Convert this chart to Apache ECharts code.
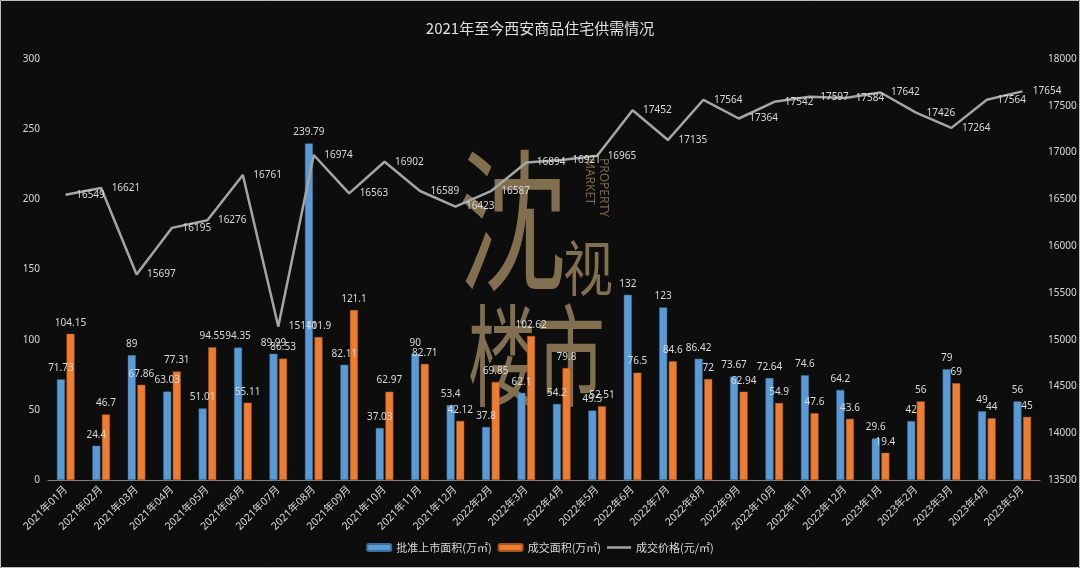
<!DOCTYPE html>
<html>
<head>
<meta charset="utf-8">
<script src="https://cdn.jsdelivr.net/npm/echarts@6/dist/echarts.min.js"></script>
<style>
html,body{margin:0;padding:0;background:#0d0d0d;}
#c{width:1080px;height:568px;}
</style>
</head>
<body>
<div id="c"></div>
<script>
const categories = ['2021年01月','2021年02月','2021年03月','2021年04月','2021年05月','2021年06月','2021年07月','2021年08月','2021年09月','2021年10月','2021年11月','2021年12月','2022年2月','2022年3月','2022年4月','2022年5月','2022年6月','2022年7月','2022年8月','2022年9月','2022年10月','2022年11月','2022年12月','2023年1月','2023年2月','2023年3月','2023年4月','2023年5月'];
const approvedArea = [71.73,24.4,89,63.03,51.01,94.35,89.99,239.79,82.11,37.03,90,53.4,37.8,62.1,54.2,49.5,132,123,86.42,73.67,72.64,74.6,64.2,29.6,42,79,49,56];
const soldArea = [104.15,46.7,67.86,77.31,94.55,55.11,86.53,101.9,121.1,62.97,82.71,42.12,69.85,102.62,79.8,52.51,76.5,84.6,72,62.94,54.9,47.6,43.6,19.4,56,69,44,45];
const price = [16549,16621,15697,16195,16276,16761,15141,16974,16563,16902,16589,16423,16587,16894,16921,16965,17452,17135,17564,17364,17542,17597,17584,17642,17426,17264,17564,17654];
const seriesNames = ['批准上市面积(万㎡)','成交面积(万㎡)','成交价格(元/㎡)'];

const txt = '#d9d9d9';
const font = 'Noto Sans, Noto Sans CJK SC, sans-serif';
const wm = 'rgba(175,150,105,0.72)';
const chart = echarts.init(document.getElementById('c'));
chart.setOption({
  backgroundColor: '#0d0d0d',
  animation: false,
  title: {
    text: '2021年至今西安商品住宅供需情况',
    left: 'center', top: 16,
    textStyle: {color: '#e0e0e0', fontSize: 15, fontWeight: 'normal', fontFamily: 'Noto Sans CJK SC'}
  },
  legend: {
    bottom: 10, left: 'center',
    itemWidth: 24, itemHeight: 7, itemGap: 6,
    textStyle: {color: txt, fontSize: 11, fontFamily: 'Noto Sans CJK SC'},
    data: [
      {name: seriesNames[0]},
      {name: seriesNames[1]},
      {name: seriesNames[2], icon: 'path://M0,0 L24,0 L24,2.5 L0,2.5 Z', itemStyle: {color: '#a5a5a5', opacity: 1}}
    ]
  },
  grid: {left: 48, right: 40, top: 59, bottom: 88, containLabel: false},
  xAxis: {
    type: 'category', data: categories,
    axisLine: {lineStyle: {color: '#808080'}},
    axisTick: {lineStyle: {color: '#808080'}, length: 4},
    axisLabel: {color: txt, fontSize: 10.5, rotate: 45, interval: 0, margin: 8, fontFamily: font}
  },
  yAxis: [
    {type: 'value', min: 0, max: 300, interval: 50,
     splitLine: {show: false}, axisLine: {show: false}, axisTick: {show: false},
     axisLabel: {color: txt, fontSize: 10, margin: 8, fontFamily: font}},
    {type: 'value', min: 13500, max: 18000, interval: 500,
     splitLine: {show: false}, axisLine: {show: false}, axisTick: {show: false},
     axisLabel: {color: txt, fontSize: 10, margin: 8, fontFamily: font, formatter: v => String(v)}}
  ],
  graphic: [
    {type: 'rect', z: 100, silent: true, shape: {x: 0.5, y: 0.5, width: 1079, height: 567}, style: {fill: 'none', stroke: '#bfbfbf', lineWidth: 1}},
    {type: 'text', z: 1, left: 458, top: 144, style: {text: '沈', fontSize: 128, fontFamily: 'Noto Sans CJK SC', fontWeight: 'normal', fill: wm}, scaleX: 0.85, scaleY: 1.2},
    {type: 'text', z: 1, left: 563, top: 238, style: {text: '视', fontSize: 50, fontFamily: 'Noto Sans CJK SC', fill: wm}, scaleY: 1.2},
    {type: 'text', z: 1, left: 468, top: 300, style: {text: '楼市', fontSize: 72, fontFamily: 'Noto Sans CJK SC', fill: wm}, scaleX: 0.95, scaleY: 1.55},
    {type: 'text', z: 1, x: 610, y: 158, rotation: -Math.PI / 2, style: {text: 'PROPERTY\nMARKET', fontSize: 12, lineHeight: 14, fontFamily: 'Noto Sans', fill: 'rgba(150,125,85,0.8)'}}
  ],
  series: [
    {name: seriesNames[0], type: 'bar', data: approvedArea, yAxisIndex: 0,
     barWidth: 8, barGap: '20%',
     itemStyle: {color: '#5b9bd5', borderColor: '#3a6f9f', borderWidth: 0.5},
     label: {show: true, position: 'top', distance: 6, color: txt, fontSize: 10, fontFamily: font}},
    {name: seriesNames[1], type: 'bar', data: soldArea, yAxisIndex: 0,
     barWidth: 8,
     itemStyle: {color: '#ed7d31', borderColor: '#a8561f', borderWidth: 0.5},
     label: {show: true, position: 'top', distance: 6, color: txt, fontSize: 10, fontFamily: font}},
    {name: seriesNames[2], type: 'line', data: price, yAxisIndex: 1,
     symbol: 'circle', symbolSize: 1, showSymbol: true,
     lineStyle: {color: '#a5a5a5', width: 2.5}, itemStyle: {color: '#a5a5a5'},
     label: {show: true, position: 'right', distance: 10, color: txt, fontSize: 10, fontFamily: font},
     labelLayout: {hideOverlap: false}}
  ]
});
</script>
</body>
</html>
